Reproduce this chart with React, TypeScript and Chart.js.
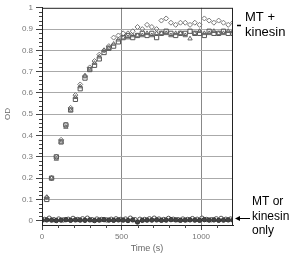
import React, { useEffect, useRef } from "react";
import { Chart, registerables } from "chart.js";

Chart.register(...registerables);

// Time points (s)
const curveTimes = [30, 60, 90, 120, 150, 180, 210, 240, 270, 300, 330, 360, 390, 420, 450, 480, 510, 540, 570, 600, 630, 660, 690, 720, 750, 780, 810, 840, 870, 900, 930, 960, 990, 1020, 1050, 1080, 1110, 1140, 1170, 1200];
// MT + kinesin, replicate 1 (open diamonds)
const diamondOD = [0.11, 0.2, 0.3, 0.38, 0.45, 0.53, 0.59, 0.64, 0.68, 0.72, 0.75, 0.78, 0.8, 0.82, 0.86, 0.87, 0.88, 0.88, 0.89, 0.91, 0.9, 0.92, 0.91, 0.9, 0.94, 0.95, 0.93, 0.92, 0.93, 0.93, 0.92, 0.93, 0.92, 0.95, 0.94, 0.93, 0.94, 0.93, 0.92, 0.93];
// MT + kinesin, replicate 2 (open squares)
const squareOD = [0.1, 0.2, 0.3, 0.37, 0.45, 0.52, 0.57, 0.62, 0.67, 0.71, 0.73, 0.76, 0.79, 0.81, 0.82, 0.84, 0.86, 0.87, 0.86, 0.87, 0.88, 0.87, 0.88, 0.86, 0.88, 0.89, 0.88, 0.87, 0.88, 0.88, 0.89, 0.88, 0.88, 0.87, 0.89, 0.88, 0.88, 0.89, 0.88, 0.88];
// MT + kinesin, replicate 3 (open triangles)
const triangleOD = [0.11, 0.2, 0.29, 0.37, 0.44, 0.52, 0.58, 0.63, 0.68, 0.71, 0.74, 0.77, 0.8, 0.81, 0.83, 0.85, 0.86, 0.86, 0.87, 0.87, 0.87, 0.88, 0.87, 0.88, 0.88, 0.88, 0.87, 0.88, 0.88, 0.87, 0.855, 0.88, 0.89, 0.88, 0.88, 0.89, 0.88, 0.88, 0.89, 0.89];

// MT or kinesin only
const controlTimesA = [0, 30, 60, 90, 120, 150, 180, 210, 240, 270, 300, 330, 360, 390, 420, 450, 480, 510, 540, 570, 600, 630, 660, 690, 720, 750, 780, 810, 840, 870, 900, 930, 960, 990, 1020, 1050, 1080, 1110, 1140, 1170, 1200];
const filledOD = [0.002, 0.004, 0.003, 0.001, 0.003, 0.005, 0.002, 0.004, 0.003, 0.002, 0.004, 0.001, 0.003, 0.005, 0.003, 0.002, 0.004, 0.003, 0.001, 0.004, -0.006, 0.002, 0.003, 0.003, 0.004, 0.002, 0.003, 0.005, 0.004, 0.002, 0.003, 0.004, 0.003, 0.002, 0.005, 0.003, 0.004, 0.002, 0.003, 0.004, 0.003];
const controlTimesB = [15, 45, 75, 105, 135, 165, 195, 225, 255, 285, 315, 345, 375, 405, 435, 465, 495, 525, 555, 585, 615, 645, 675, 705, 735, 765, 795, 825, 855, 885, 915, 945, 975, 1005, 1035, 1065, 1095, 1125, 1155, 1185];
const openOD = [0.006, 0.012, 0.005, 0.008, 0.004, 0.007, 0.011, 0.006, 0.009, 0.012, 0.005, 0.008, 0.006, 0.004, 0.007, 0.009, 0.006, 0.008, 0.012, 0.005, 0.007, 0.006, 0.009, 0.012, 0.008, 0.006, 0.011, 0.007, 0.005, 0.008, 0.006, 0.01, 0.007, 0.012, 0.006, 0.005, 0.009, 0.011, 0.007, 0.008];

const xTicks = [0, 500, 1000];
const yTicks = [0, 0.1, 0.2, 0.3, 0.4, 0.5, 0.6, 0.7, 0.8, 0.9, 1];

const pts = (xs: number[], ys: number[]) => xs.map((x, i) => ({ x, y: ys[i] }));

const decorPlugin = {
  id: "decor",
  afterDraw(chart: any) {
    const { ctx, chartArea, scales } = chart;
    const xs = scales.x;
    const ys = scales.y;
    ctx.save();
    // frame
    ctx.strokeStyle = "#222";
    ctx.lineWidth = 1;
    ctx.strokeRect(chartArea.left + 0.5, chartArea.top + 0.5, chartArea.right - chartArea.left - 1, chartArea.bottom - chartArea.top);
    // minor ticks on y
    ctx.beginPath();
    for (let i = 0; i <= 50; i++) {
      if (i % 5 === 0) continue;
      const y = Math.round(ys.getPixelForValue(i / 50)) + 0.5;
      ctx.moveTo(chartArea.left - 3, y);
      ctx.lineTo(chartArea.left, y);
    }
    // minor ticks on x
    for (let t = 100; t < 1200; t += 100) {
      if (t % 500 === 0) continue;
      const x = Math.round(xs.getPixelForValue(t)) + 0.5;
      ctx.moveTo(x, chartArea.bottom);
      ctx.lineTo(x, chartArea.bottom + 3);
    }
    ctx.strokeStyle = "#444";
    ctx.stroke();

    // axis titles
    ctx.fillStyle = "#666";
    ctx.font = "9px 'Liberation Sans', Arial, sans-serif";
    ctx.textAlign = "center";
    ctx.textBaseline = "middle";
    ctx.fillText("Time (s)", 147, 249);
    ctx.save();
    ctx.translate(8, 114);
    ctx.rotate(-Math.PI / 2);
    ctx.font = "8px 'Liberation Sans', Arial, sans-serif";
    ctx.fillText("OD", 0, 0);
    ctx.restore();

    // annotations
    ctx.fillStyle = "#000";
    ctx.textAlign = "left";
    ctx.font = "13px 'Liberation Sans', Arial, sans-serif";
    ctx.fillText("MT +", 245, 17);
    ctx.fillText("kinesin", 245, 32);
    ctx.font = "12px 'Liberation Sans', Arial, sans-serif";
    ctx.fillText("MT or", 252, 202);
    ctx.fillText("kinesin", 252, 217);
    ctx.fillText("only", 252, 231);

    ctx.strokeStyle = "#000";
    ctx.lineWidth = 1.5;
    ctx.beginPath();
    ctx.moveTo(237, 25.5);
    ctx.lineTo(241, 25.5);
    ctx.stroke();
    ctx.lineWidth = 1;
    ctx.beginPath();
    ctx.moveTo(236, 218.5);
    ctx.lineTo(250, 218.5);
    ctx.stroke();
    ctx.beginPath();
    ctx.moveTo(235, 218.5);
    ctx.lineTo(240, 216);
    ctx.lineTo(240, 221);
    ctx.closePath();
    ctx.fillStyle = "#000";
    ctx.fill();
    ctx.restore();
  },
};

export default function App() {
  const ref = useRef<HTMLCanvasElement | null>(null);
  useEffect(() => {
    if (!ref.current) return;
    const chart = new Chart(ref.current, {
      type: "scatter",
      data: {
        datasets: [
          { label: "filled", data: pts(controlTimesA, filledOD), pointStyle: "circle", pointRadius: 2.2, backgroundColor: "#444", borderColor: "#333", borderWidth: 1 },
          { label: "open", data: pts(controlTimesB, openOD), pointStyle: "circle", pointRadius: 2.2, backgroundColor: "rgba(255,255,255,0.6)", borderColor: "#555", borderWidth: 1 },
          { label: "triangles", data: pts(curveTimes, triangleOD), pointStyle: "triangle", pointRadius: 2.5, backgroundColor: "rgba(0,0,0,0)", borderColor: "#666", borderWidth: 1 },
          { label: "squares", data: pts(curveTimes, squareOD), pointStyle: "rect", pointRadius: 3, backgroundColor: "rgba(0,0,0,0)", borderColor: "#555", borderWidth: 1 },
          { label: "diamonds", data: pts(curveTimes, diamondOD), pointStyle: "rectRot", pointRadius: 2.5, backgroundColor: "rgba(0,0,0,0)", borderColor: "#777", borderWidth: 1 },
        ],
      },
      options: {
        responsive: false,
        animation: false,
        devicePixelRatio: 1,
        layout: { padding: { left: 0, right: 67, top: 5, bottom: 0 } },
        plugins: { legend: { display: false }, tooltip: { enabled: false } },
        scales: {
          x: {
            type: "linear",
            min: 0,
            max: 1200,
            afterBuildTicks: (s: any) => { s.ticks = xTicks.map((v) => ({ value: v })); },
            afterFit: (s: any) => { s.height = 31; },
            grid: {
              color: (c: any) => (c.tick && c.tick.value > 0 ? "#888" : "rgba(0,0,0,0)"),
              tickColor: "#444",
              tickLength: 5,
            },
            border: { display: true, color: "#222" },
            ticks: {
              color: "#777",
              font: { size: 8, family: "'Liberation Sans', Arial, sans-serif" },
              padding: 2,
              maxRotation: 0,
              autoSkip: false,
              callback: (v: any) => String(v),
            },
          },
          y: {
            type: "linear",
            min: -0.02,
            max: 1,
            afterBuildTicks: (s: any) => { s.ticks = yTicks.map((v) => ({ value: v })); },
            afterFit: (s: any) => { s.width = 42; },
            grid: {
              color: (c: any) => (c.tick && c.tick.value < 1 ? "#aaa" : "rgba(0,0,0,0)"),
              tickColor: "#444",
              tickLength: 6,
            },
            border: { display: true, color: "#222" },
            ticks: {
              color: "#777",
              font: { size: 8, family: "'Liberation Sans', Arial, sans-serif" },
              padding: 3,
              autoSkip: false,
              callback: (v: any) => String(Math.round(Number(v) * 10) / 10),
            },
          },
        },
      },
      plugins: [decorPlugin],
    } as any);
    return () => chart.destroy();
  }, []);
  return (
    <div style={{ position: "fixed", left: 0, top: 0, width: 300, height: 256, background: "#fff" }}>
      <canvas ref={ref} width={300} height={256} style={{ width: 300, height: 256, display: "block" }} />
    </div>
  );
}
